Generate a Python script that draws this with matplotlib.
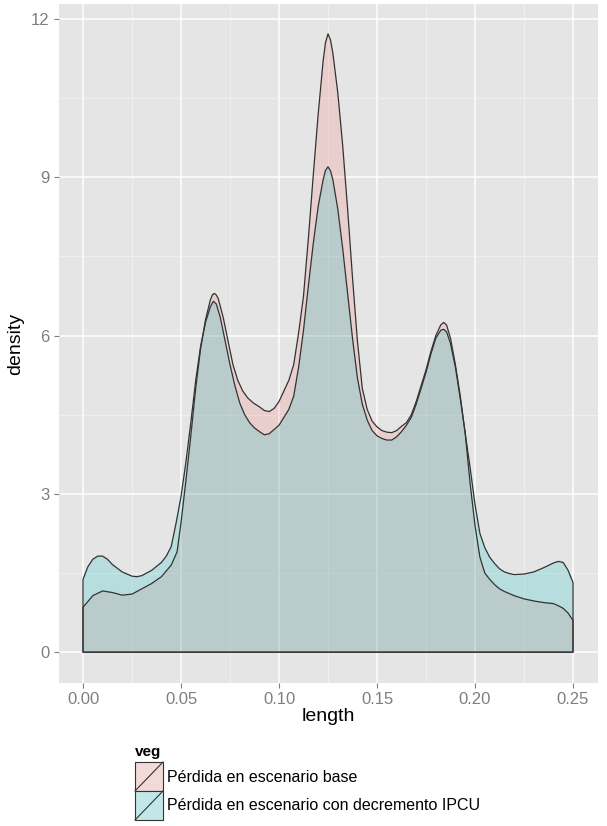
import numpy as np
import matplotlib
matplotlib.use("Agg")
import matplotlib.pyplot as plt
from matplotlib.patches import Rectangle
from matplotlib.lines import Line2D

plt.rcParams['font.family'] = ['Liberation Sans', 'DejaVu Sans']

# density curve: Perdida en escenario base
base_x = [0.000, 0.005, 0.010, 0.015, 0.020, 0.025, 0.030, 0.035, 0.040, 0.045,
          0.048, 0.050, 0.0525, 0.055, 0.0575, 0.060, 0.0625, 0.065, 0.066, 0.067,
          0.068, 0.069, 0.0715, 0.074, 0.0765, 0.079, 0.0815, 0.084, 0.087, 0.090,
          0.0925, 0.095, 0.0975, 0.100, 0.1025, 0.105, 0.1075, 0.110, 0.1125, 0.115,
          0.1175, 0.120, 0.1225, 0.1237, 0.125, 0.1263, 0.1275, 0.130, 0.1325, 0.135,
          0.1375, 0.140, 0.1425, 0.145, 0.1475, 0.150, 0.1525, 0.155, 0.1575, 0.160,
          0.1625, 0.165, 0.1675, 0.170, 0.1725, 0.175, 0.1775, 0.180, 0.1825, 0.184,
          0.1855, 0.1875, 0.190, 0.1925, 0.195, 0.1975, 0.200, 0.2025, 0.205, 0.2075,
          0.210, 0.2125, 0.215, 0.220, 0.225, 0.230, 0.235, 0.240, 0.2425, 0.245,
          0.2475, 0.250]
base_y = [0.85, 1.07, 1.16, 1.13, 1.08, 1.10, 1.20, 1.30, 1.43, 1.65,
          1.90, 2.45, 3.25, 4.10, 5.00, 5.75, 6.30, 6.68, 6.77, 6.80,
          6.77, 6.70, 6.35, 5.90, 5.45, 5.15, 4.95, 4.82, 4.72, 4.65,
          4.58, 4.56, 4.62, 4.75, 4.95, 5.15, 5.45, 6.05, 6.75, 7.85,
          9.05, 10.20, 11.20, 11.55, 11.72, 11.60, 11.35, 10.60, 9.60, 8.40,
          7.10, 5.90, 5.00, 4.60, 4.38, 4.27, 4.20, 4.17, 4.16, 4.20,
          4.28, 4.35, 4.50, 4.75, 5.05, 5.35, 5.70, 6.00, 6.20, 6.25,
          6.20, 5.95, 5.45, 4.85, 4.15, 3.20, 2.40, 1.80, 1.50, 1.38,
          1.28, 1.20, 1.15, 1.07, 1.01, 0.97, 0.94, 0.92, 0.88, 0.83,
          0.74, 0.60]

# density curve: Perdida en escenario con decremento IPCU
ipcu_x = [0.000, 0.0025, 0.005, 0.0075, 0.010, 0.0125, 0.015, 0.020, 0.025, 0.0275,
          0.030, 0.035, 0.040, 0.0425, 0.045, 0.0475, 0.050, 0.0525, 0.055, 0.0575,
          0.060, 0.0625, 0.065, 0.0665, 0.068, 0.070, 0.0725, 0.075, 0.0775, 0.080,
          0.0825, 0.085, 0.0875, 0.090, 0.0925, 0.095, 0.0975, 0.100, 0.1025, 0.105,
          0.1075, 0.110, 0.1125, 0.115, 0.1175, 0.120, 0.1225, 0.1237, 0.125, 0.1263,
          0.1275, 0.130, 0.1325, 0.135, 0.1375, 0.140, 0.1425, 0.145, 0.1475, 0.150,
          0.1525, 0.155, 0.1575, 0.160, 0.1625, 0.165, 0.1675, 0.170, 0.1725, 0.175,
          0.1775, 0.180, 0.1825, 0.184, 0.1855, 0.1875, 0.190, 0.1925, 0.195, 0.1975,
          0.200, 0.2025, 0.205, 0.2075, 0.210, 0.2125, 0.215, 0.2175, 0.220, 0.225,
          0.230, 0.235, 0.240, 0.2425, 0.245, 0.2475, 0.250]
ipcu_y = [1.38, 1.62, 1.76, 1.82, 1.82, 1.76, 1.66, 1.52, 1.44, 1.43,
          1.45, 1.55, 1.70, 1.82, 2.00, 2.45, 2.95, 3.60, 4.35, 5.15,
          5.80, 6.25, 6.55, 6.65, 6.60, 6.35, 5.90, 5.45, 5.05, 4.72,
          4.50, 4.35, 4.25, 4.18, 4.12, 4.14, 4.22, 4.30, 4.45, 4.60,
          4.85, 5.40, 6.10, 6.95, 7.75, 8.45, 8.95, 9.13, 9.20, 9.12,
          8.95, 8.40, 7.65, 6.80, 5.95, 5.20, 4.70, 4.40, 4.20, 4.10,
          4.05, 4.02, 4.02, 4.08, 4.18, 4.30, 4.45, 4.70, 5.00, 5.30,
          5.65, 5.95, 6.10, 6.12, 6.07, 5.85, 5.40, 4.80, 4.15, 3.50,
          2.80, 2.25, 1.98, 1.80, 1.68, 1.58, 1.52, 1.49, 1.47, 1.48,
          1.52, 1.60, 1.69, 1.72, 1.70, 1.55, 1.32]

series = [('Pérdida en escenario base', base_x, base_y, '#F8766D'),
          ('Pérdida en escenario con decremento IPCU', ipcu_x, ipcu_y, '#00BFC4')]
x_ticks = [0.00, 0.05, 0.10, 0.15, 0.20, 0.25]
y_ticks = [0, 3, 6, 9, 12]

W, H = 607, 826
fig = plt.figure(figsize=(W / 100, H / 100), dpi=100)
ax = fig.add_axes([58.5 / W, 1 - 683 / H, 539 / W, 679 / H])
ax.set_facecolor('#E5E5E5')

for label, xs, ys, col in series:
    px = [xs[0]] + list(xs) + [xs[-1]]
    py = [0] + list(ys) + [0]
    ax.fill(px, py, facecolor=col, alpha=0.2, edgecolor='none', zorder=3)
    ax.fill(px, py, facecolor='none', edgecolor='#333333', lw=0.9,
            joinstyle='round', zorder=4)

ax.set_xlim(-0.0125, 0.2625)
ax.set_ylim(-0.585, 12.285)
ax.set_xticks(x_ticks)
ax.set_xticklabels(['%.2f' % v for v in x_ticks])
ax.set_yticks(y_ticks)
ax.set_xticks([0.025, 0.075, 0.125, 0.175, 0.225], minor=True)
ax.set_yticks([1.5, 4.5, 7.5, 10.5], minor=True)
ax.grid(which='major', color='white', lw=1.1, zorder=1)
ax.grid(which='minor', color='#F2F2F2', lw=0.6, zorder=1)
ax.set_axisbelow(True)
for s in ax.spines.values():
    s.set_visible(False)
ax.tick_params(which='major', length=3.5, width=0.8, color='#7F7F7F',
               labelcolor='#7F7F7F', labelsize=12, pad=3)
ax.tick_params(which='minor', length=0)
ax.set_xlabel('length', fontsize=14, labelpad=1)
ax.set_ylabel('density', fontsize=14, labelpad=5)

# legend drawn below the panel, ggplot style
fig.text(135 / W, 1 - 752 / H, 'veg', fontsize=11, fontweight='bold', va='center')
for i, (label, xs, ys, col) in enumerate(series):
    top = 762 + 29 * i
    x0, y0 = 135 / W, 1 - (top + 29) / H
    w, h = 28 / W, 29 / H
    fig.patches.append(Rectangle((x0, y0), w, h, transform=fig.transFigure,
                                 facecolor='#F2F2F2', edgecolor='none'))
    fig.patches.append(Rectangle((x0, y0), w, h, transform=fig.transFigure,
                                 facecolor=col, alpha=0.2, edgecolor='none'))
    fig.patches.append(Rectangle((x0, y0), w, h, transform=fig.transFigure,
                                 facecolor='none', edgecolor='#333333', lw=0.8))
    fig.lines.append(Line2D([x0, x0 + w], [y0, y0 + h], transform=fig.transFigure,
                            color='#333333', lw=0.8))
    fig.text(167 / W, 1 - (top + 15) / H, label, fontsize=11.5, va='center')

fig.savefig('out.png', dpi=100)
